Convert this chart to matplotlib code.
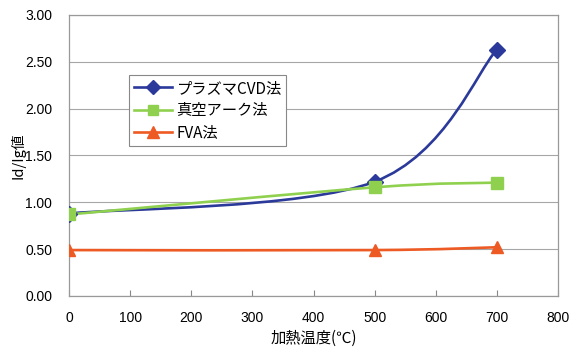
import matplotlib
matplotlib.use("Agg")
import matplotlib.pyplot as plt
from matplotlib.path import Path
from matplotlib.patches import PathPatch
from matplotlib.lines import Line2D

plt.rcParams['font.family'] = ['Noto Sans CJK JP', 'DejaVu Sans']

temps = [0, 500, 700]
series_names = ["プラズマCVD法", "真空アーク法", "FVA法"]
plasma_cvd = [0.88, 1.22, 2.63]
vacuum_arc = [0.87, 1.16, 1.21]
fva = [0.49, 0.49, 0.52]
xticks = [0, 100, 200, 300, 400, 500, 600, 700, 800]
yticks = [0.0, 0.5, 1.0, 1.5, 2.0, 2.5, 3.0]

colors = ["#2B3A9A", "#8FD14F", "#EE5A24"]
markers = ["D", "s", "^"]
msizes = [8, 8, 9]


def smooth_path(xs, ys):
    # Excel-style smoothed line: Catmull-Rom rendered as cubic Bezier
    n = len(xs)
    verts = [(xs[0], ys[0])]
    codes = [Path.MOVETO]
    for i in range(n - 1):
        i0 = max(i - 1, 0)
        i3 = min(i + 2, n - 1)
        c1 = (xs[i] + (xs[i + 1] - xs[i0]) / 6, ys[i] + (ys[i + 1] - ys[i0]) / 6)
        c2 = (xs[i + 1] - (xs[i3] - xs[i]) / 6, ys[i + 1] - (ys[i3] - ys[i]) / 6)
        verts += [c1, c2, (xs[i + 1], ys[i + 1])]
        codes += [Path.CURVE4] * 3
    return Path(verts, codes)


fig = plt.figure(figsize=(5.7, 3.47), dpi=100)
ax = fig.add_axes([0.121, 0.147, 0.858, 0.81])

for vals, name, c, m, ms in zip([plasma_cvd, vacuum_arc, fva], series_names, colors, markers, msizes):
    ax.add_patch(PathPatch(smooth_path(temps, vals), fill=False, edgecolor=c, lw=1.9, zorder=3))
    ax.plot(temps, vals, linestyle='None', color=c, marker=m, markersize=ms,
            markeredgecolor=c, label=name, zorder=4)

leg_handles = [Line2D([0], [0], color=c, lw=1.9, marker=m, markersize=ms * 0.9)
               for c, m, ms in zip(colors, markers, msizes)]
leg = ax.legend(leg_handles, series_names, loc='upper left', bbox_to_anchor=(0.123, 0.786),
                frameon=True, fancybox=False, framealpha=1, edgecolor='#888888',
                fontsize=11, handlelength=2.5, borderpad=0.3, labelspacing=0.35,
                handletextpad=0.3, borderaxespad=0)
leg.get_frame().set_linewidth(0.8)

ax.set_xlim(0, 800)
ax.set_ylim(0, 3.0)
ax.set_xticks(xticks)
ax.set_yticks(yticks)
ax.set_xticklabels([str(v) for v in xticks], family=['Liberation Sans'])
ax.set_yticklabels([f"{v:.2f}" for v in yticks], family=['Liberation Sans'])
ax.tick_params(axis='x', direction='in', length=4, color='#888888', labelsize=10, pad=11)
ax.tick_params(axis='y', length=0, labelsize=10, pad=12)
ax.grid(axis='y', color='#A6A6A6', lw=0.8)
ax.set_axisbelow(True)
for s in ax.spines.values():
    s.set_color('#999999')
    s.set_linewidth(0.9)

ax.set_xlabel("加熱温度(℃)", fontsize=11, labelpad=3)
ax.set_ylabel("Id/Ig値", fontsize=10.5, labelpad=0)

fig.savefig("out.png", dpi=100)
